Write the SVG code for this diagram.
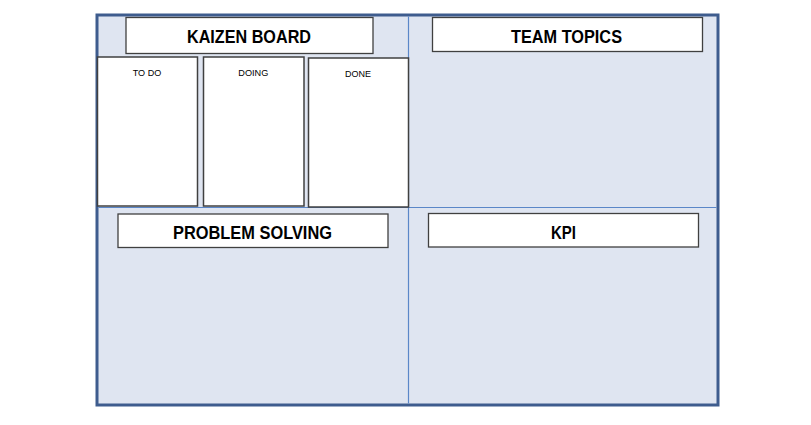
<svg xmlns="http://www.w3.org/2000/svg" width="811" height="425" viewBox="0 0 811 425">
<style>
.frame{fill:#dfe5f1;stroke:#3e5c8e;stroke-width:3}
.div{stroke:#5b87c8;stroke-width:1.2;fill:none}
.box{fill:#ffffff;stroke:#404040;stroke-width:1.3}
.col{fill:#ffffff;stroke:#404040;stroke-width:1.5}
.title{font-family:"Liberation Sans",Arial,sans-serif;font-weight:bold;font-size:17.5px;fill:#000;text-anchor:start}
.small{font-family:"Liberation Sans",Arial,sans-serif;font-size:9px;fill:#000;text-anchor:middle}
</style>
<rect x="0" y="0" width="811" height="425" fill="#ffffff"/>
<g id="board">
<rect class="frame" x="97" y="15" width="621" height="390"/>
</g>
<g id="connectors">
<line class="div" x1="408.5" y1="16.5" x2="408.5" y2="403.5"/>
<line class="div" x1="98.5" y1="207.5" x2="716.5" y2="207.5"/>
</g>
<g id="kaizen-board">
<rect class="box" x="126" y="17.5" width="247" height="36"/>
<text class="title" x="187" y="43" textLength="124" lengthAdjust="spacingAndGlyphs">KAIZEN BOARD</text>
</g>
<g id="todo">
<rect class="col" x="97.5" y="57" width="100" height="149"/>
<text class="small" x="147" y="75.5" textLength="28.5" lengthAdjust="spacingAndGlyphs">TO DO</text>
</g>
<g id="doing">
<rect class="col" x="203.5" y="57" width="100.5" height="149"/>
<text class="small" x="253.3" y="75.5" textLength="30" lengthAdjust="spacingAndGlyphs">DOING</text>
</g>
<g id="done">
<rect class="col" x="308.5" y="58" width="100" height="149"/>
<text class="small" x="358" y="76.5" textLength="26" lengthAdjust="spacingAndGlyphs">DONE</text>
</g>
<g id="team-topics">
<rect class="box" x="432.5" y="17.5" width="270" height="34"/>
<text class="title" x="511" y="42.5" textLength="111" lengthAdjust="spacingAndGlyphs">TEAM TOPICS</text>
</g>
<g id="problem-solving">
<rect class="box" x="118" y="214" width="270" height="33.5"/>
<text class="title" x="173" y="239" textLength="159" lengthAdjust="spacingAndGlyphs">PROBLEM SOLVING</text>
</g>
<g id="kpi">
<rect class="box" x="428.5" y="213.5" width="270" height="33.5"/>
<text class="title" x="551" y="238.5" textLength="25" lengthAdjust="spacingAndGlyphs">KPI</text>
</g>
</svg>
